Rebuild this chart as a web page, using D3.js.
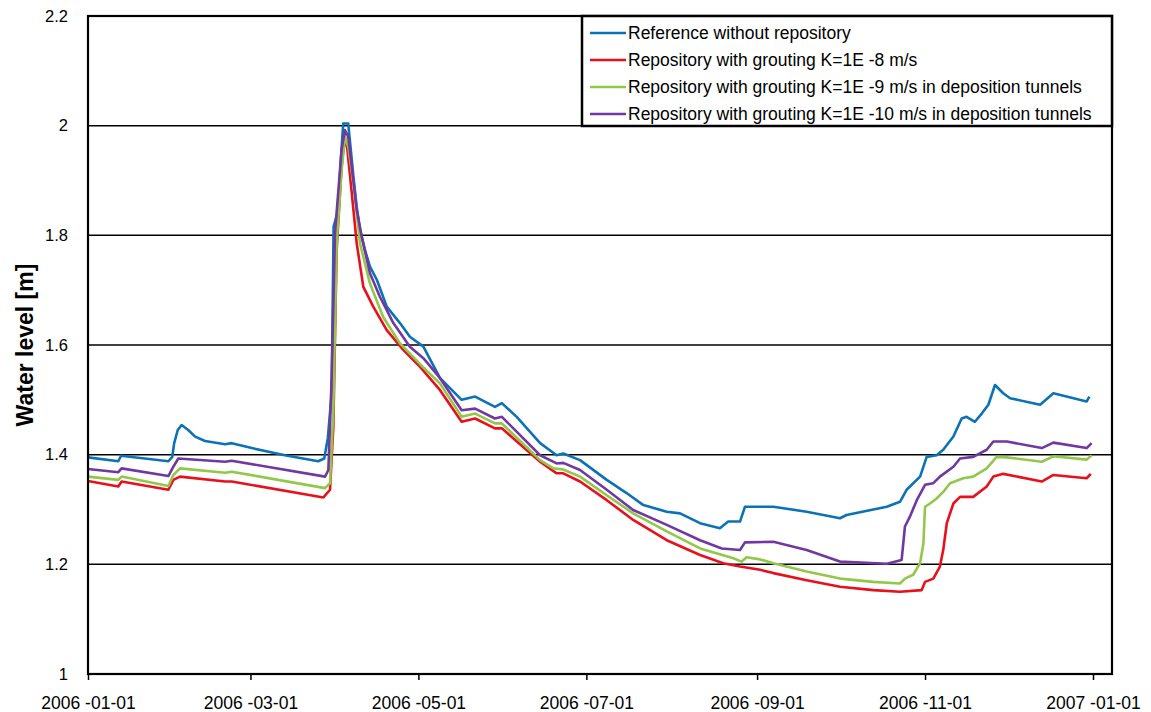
<!DOCTYPE html>
<html>
<head>
<meta charset="utf-8">
<script src="https://cdn.jsdelivr.net/npm/d3@7"></script>
<style>
	body { margin: 0; background: #fff; }
	svg { display: block; font-family: 'Liberation Sans', Arial, sans-serif; }
</style>
</head>
<body>
<svg id="chart" width="1151" height="712"></svg>
<script>
// days after 2006-01-01, water level [m]
var reference = [[0,1.395],[11,1.388],[12,1.398],[29.2,1.388],[30.6,1.396],[31.3,1.421],[32.6,1.445],[34,1.454],[36.4,1.445],[38.9,1.433],[42.5,1.425],[49.8,1.419],[52.2,1.421],[59.5,1.412],[71.5,1.399],[83.6,1.388],[85.8,1.393],[87.1,1.43],[88.5,1.512],[89.2,1.816],[90.9,1.846],[91.8,1.937],[92.7,2.004],[94.5,2.004],[95.2,1.968],[96.4,1.907],[97.6,1.852],[98.8,1.81],[100.6,1.773],[102.4,1.743],[104.9,1.719],[108.5,1.67],[113.3,1.64],[116.9,1.615],[121.8,1.597],[127.8,1.54],[135.7,1.5],[140.6,1.506],[147.8,1.487],[150.3,1.494],[155.7,1.469],[164.2,1.421],[170.2,1.399],[172.6,1.402],[178.7,1.39],[188.4,1.354],[195.6,1.33],[201.7,1.308],[210.2,1.296],[215,1.293],[222.3,1.275],[229.5,1.266],[232.5,1.278],[236.8,1.278],[238.6,1.305],[248.9,1.305],[261,1.296],[273.1,1.284],[275.5,1.29],[290.1,1.305],[294.9,1.314],[297.3,1.336],[302.2,1.36],[304.6,1.396],[308.2,1.399],[310.6,1.409],[314.3,1.433],[317.3,1.466],[319.1,1.469],[322.1,1.46],[324.6,1.475],[327,1.491],[329.4,1.527],[332.4,1.512],[334.9,1.503],[345.8,1.491],[350.6,1.512],[362.7,1.497],[363.7,1.506]];

var grout8 = [[0,1.352],[11,1.342],[12.2,1.351],[29.2,1.336],[31,1.354],[33.4,1.36],[49.8,1.351],[52.2,1.351],[85.5,1.322],[87.9,1.336],[89.1,1.451],[90.3,1.773],[92.1,1.925],[93.3,1.98],[94.2,1.956],[95.8,1.877],[97.6,1.785],[100,1.706],[103.6,1.67],[108.5,1.627],[114.5,1.591],[120.6,1.56],[127.8,1.518],[135.7,1.46],[140.6,1.466],[147.8,1.448],[150.3,1.448],[164.2,1.387],[170.2,1.366],[172.6,1.366],[178.7,1.351],[188.4,1.317],[198,1.281],[210.2,1.244],[222.3,1.217],[230.7,1.202],[236.8,1.196],[244.1,1.19],[248.9,1.184],[261,1.171],[273.1,1.159],[285.2,1.153],[294.9,1.15],[302.8,1.153],[304,1.168],[307,1.174],[309.4,1.196],[310.6,1.226],[311.9,1.275],[314.3,1.311],[316.7,1.323],[321.5,1.323],[326.4,1.342],[328.8,1.36],[332.4,1.365],[346.4,1.351],[350.6,1.363],[362.7,1.357],[364.2,1.365]];

var grout9 = [[0,1.36],[11,1.354],[12.2,1.36],[29.2,1.343],[31,1.363],[33.4,1.375],[49.8,1.367],[52.2,1.369],[86.1,1.339],[87.9,1.348],[89.1,1.481],[90.3,1.785],[92.1,1.919],[93.3,1.98],[94.5,1.962],[96.4,1.895],[98.8,1.785],[102.4,1.712],[107.2,1.651],[113.3,1.603],[120.6,1.565],[127.8,1.53],[135.7,1.469],[140.6,1.475],[147.8,1.457],[150.3,1.457],[164.2,1.39],[169,1.375],[172.6,1.373],[178.7,1.36],[188.4,1.326],[198,1.293],[210.2,1.26],[222.3,1.229],[234.4,1.211],[237.4,1.205],[239.2,1.213],[244.1,1.209],[248.9,1.202],[261,1.187],[273.1,1.174],[285.2,1.168],[294.9,1.165],[296.7,1.174],[299.7,1.181],[302.2,1.202],[303.4,1.238],[304,1.305],[305.8,1.311],[308.2,1.32],[310.6,1.332],[313.1,1.348],[317.9,1.357],[321.5,1.36],[326.4,1.375],[330,1.396],[333.7,1.395],[346.4,1.387],[350.6,1.397],[362.7,1.391],[364.5,1.399]];

var grout10 = [[0,1.374],[11,1.368],[12.2,1.375],[29.2,1.361],[31,1.378],[32.8,1.393],[49.8,1.387],[52.2,1.389],[86.1,1.36],[87.3,1.372],[88.5,1.542],[89.7,1.804],[92.1,1.956],[93.3,1.992],[94.5,1.98],[95.8,1.925],[97.6,1.846],[99.4,1.798],[102.4,1.731],[106,1.688],[110.9,1.64],[116.9,1.597],[121.8,1.576],[127.8,1.54],[135.7,1.481],[140.6,1.484],[147.8,1.466],[150.3,1.469],[164.2,1.399],[170.2,1.384],[172.6,1.385],[178.7,1.372],[188.4,1.336],[198,1.299],[210.2,1.272],[222.3,1.244],[230.2,1.229],[236.8,1.226],[238.6,1.24],[248.9,1.241],[261,1.226],[273.1,1.205],[290.1,1.201],[295.5,1.208],[296.7,1.269],[298.5,1.287],[301,1.317],[304,1.345],[307,1.348],[309.4,1.36],[314.3,1.378],[316.7,1.393],[321.5,1.396],[326.4,1.409],[328.8,1.424],[333.7,1.424],[346.4,1.412],[350.6,1.422],[362.7,1.412],[364.5,1.421]];

var seriesNames = [
	'Reference without repository',
	'Repository with grouting K=1E -8 m/s',
	'Repository with grouting K=1E -9 m/s in deposition tunnels',
	'Repository with grouting K=1E -10 m/s in deposition tunnels'
];
var seriesColors = ['#0c72b6', '#e8101c', '#92c84a', '#7038a0'];
var yTicks = [1, 1.2, 1.4, 1.6, 1.8, 2, 2.2];
var xTickDates = ['2006-01-01', '2006-03-01', '2006-05-01', '2006-07-01', '2006-09-01', '2006-11-01', '2007-01-01'];

var margin = { top: 16, left: 88 },
	width = 1024,
	height = 658,
	start = Date.UTC(2006, 0, 1),
	dayMs = 864e5;

function toDate(d) { return new Date(start + d * dayMs); }

var svg = d3.select('#chart');
var g = svg.append('g')
	.attr('transform', 'translate(' + margin.left + ',' + margin.top + ')');

var x = d3.scaleUtc()
	.domain([toDate(0), toDate(371.9)])
	.range([0, width]);

var y = d3.scaleLinear()
	.domain([1, 2.2])
	.range([height, 0]);

// gridlines
g.selectAll('.grid')
		.data(yTicks.slice(1, -1))
	.enter().append('line')
		.attr('x1', 0)
		.attr('x2', width)
		.attr('y1', function(d) { return y(d); })
		.attr('y2', function(d) { return y(d); })
		.attr('stroke', '#000')
		.attr('stroke-width', 1.5);

// y axis labels
var yAxis = d3.axisLeft(y)
	.tickValues(yTicks)
	.tickSize(0)
	.tickPadding(20)
	.tickFormat(d3.format('~g'));

g.append('g')
	.call(yAxis)
	.call(function(s) {
		s.select('.domain').remove();
		s.selectAll('text')
			.attr('font-size', 16.5)
			.attr('fill', '#000')
			.attr('font-family', 'Liberation Sans, Arial, sans-serif');
	});

// x axis
var xAxis = d3.axisBottom(x)
	.tickValues(xTickDates.map(function(s) { return new Date(s + 'T00:00:00Z'); }))
	.tickSize(6)
	.tickPadding(17)
	.tickFormat(d3.utcFormat('%Y -%m-%d'));

g.append('g')
	.attr('transform', 'translate(0,' + height + ')')
	.call(xAxis)
	.call(function(s) {
		s.select('.domain').remove();
		s.selectAll('line').attr('stroke', '#000').attr('stroke-width', 1.5);
		s.selectAll('text')
			.attr('font-size', 17.5)
			.attr('fill', '#000')
			.attr('font-family', 'Liberation Sans, Arial, sans-serif');
	});

// series lines
var line = d3.line()
	.x(function(d) { return x(toDate(d[0])); })
	.y(function(d) { return y(d[1]); });

var allSeries = [reference, grout8, grout9, grout10];

g.selectAll('.series')
		.data(allSeries)
	.enter().append('path')
		.attr('d', line)
		.attr('fill', 'none')
		.attr('stroke', function(d, i) { return seriesColors[i]; })
		.attr('stroke-width', 2.6)
		.attr('stroke-linejoin', 'round');

// plot frame
g.append('rect')
	.attr('width', width)
	.attr('height', height)
	.attr('fill', 'none')
	.attr('stroke', '#000')
	.attr('stroke-width', 2.2);

// legend
var legend = g.append('g')
	.attr('transform', 'translate(' + (582 - margin.left) + ',0)');

legend.append('rect')
	.attr('width', width - (582 - margin.left))
	.attr('height', 110)
	.attr('fill', '#fff')
	.attr('stroke', '#000')
	.attr('stroke-width', 2.5);

var items = legend.selectAll('.item')
		.data(seriesNames)
	.enter().append('g')
		.attr('transform', function(d, i) { return 'translate(0,' + (17 + i * 27) + ')'; });

items.append('line')
	.attr('x1', 8)
	.attr('x2', 44)
	.attr('stroke', function(d, i) { return seriesColors[i]; })
	.attr('stroke-width', 2.6);

items.append('text')
	.attr('x', 46)
	.attr('dy', '0.35em')
	.attr('font-size', 17.5)
	.text(function(d) { return d; });

// y title
svg.append('text')
	.attr('transform', 'translate(33,' + (margin.top + height / 2) + ') rotate(-90)')
	.attr('text-anchor', 'middle')
	.attr('font-size', 23)
	.attr('font-weight', 'bold')
	.text('Water level [m]');
</script>
</body>
</html>
